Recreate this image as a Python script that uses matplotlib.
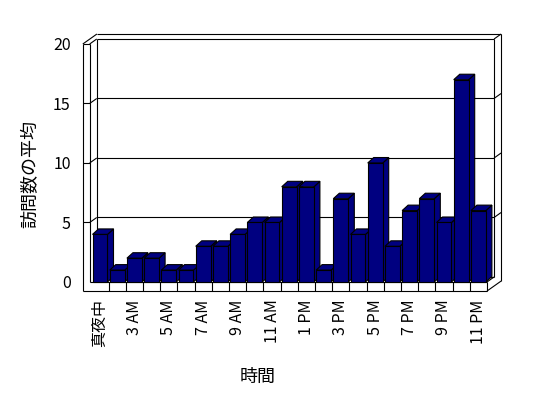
import matplotlib
matplotlib.use('Agg')
import matplotlib.pyplot as plt
from matplotlib.patches import Polygon

plt.rcParams['font.family'] = ['Noto Sans CJK JP', 'DejaVu Sans']

# ---- data ----
categories = ['真夜中', '2 AM', '3 AM', '4 AM', '5 AM', '6 AM', '7 AM', '8 AM',
              '9 AM', '10 AM', '11 AM', '正午', '1 PM', '2 PM', '3 PM', '4 PM',
              '5 PM', '6 PM', '7 PM', '8 PM', '9 PM', '10 PM', '11 PM']
values = [4, 1, 2, 2, 1, 1, 3, 3, 4, 5, 5, 8, 8, 1, 7, 4, 10, 3, 6, 7, 5, 17, 6]
y_ticks = [0, 5, 10, 15, 20]
x_title = '時間'
y_title = '訪問数の平均'

# ---- 3D-look geometry (data units) ----
N = len(values)
XL = -0.6            # inner front edge of left wall
XR = N - 0.5         # front right edge of floor
WALL = 0.4           # left wall thickness
FLOOR = -0.76        # floor slab bottom
DX, DY = 0.41, 0.42  # depth offset
BW = 0.87            # bar width
BDX, BDY = 0.35, 0.46
YMAX = y_ticks[-1]
NAVY = '#000080'
LW = 0.8

fig = plt.figure(figsize=(5.48, 3.98), dpi=100)
ax = fig.add_axes([0.14953, 0.26874, 0.76646, 0.64583])
ax.set_xlim(XL - WALL - 0.05, XR + 2 * DX + 0.05)
ax.set_ylim(FLOOR, YMAX + 2 * DY)
for s in ax.spines.values():
    s.set_visible(False)


def line(xs, ys, z=1):
    ax.plot(xs, ys, color='black', lw=LW, zorder=z, clip_on=False,
            solid_capstyle='butt')


XO = XL - WALL
# back wall
line([XL + DX, XR + DX], [YMAX + DY, YMAX + DY])
line([XL + DX, XL + DX], [DY, YMAX + DY])
line([XR + DX, XR + DX], [DY, YMAX + DY])
line([XL + DX, XR + DX], [DY, DY])
line([XO + 2 * DX, XR + 2 * DX], [YMAX + 2 * DY, YMAX + 2 * DY])
line([XO, XO + 2 * DX], [YMAX, YMAX + 2 * DY])
line([XO, XL], [YMAX, YMAX])
line([XL, XL + DX], [YMAX, YMAX + DY])
line([XR + DX, XR + 2 * DX], [YMAX + DY, YMAX + 2 * DY])
line([XR + 2 * DX, XR + 2 * DX], [YMAX + 2 * DY, FLOOR + 2 * DY])
line([XR + 2 * DX, XR], [FLOOR + 2 * DY, FLOOR])
line([XR, XR + DX], [0, DY])
# left wall
line([XO, XO], [YMAX, FLOOR])
line([XL, XL], [YMAX, 0])
# floor front
line([XO, XR], [FLOOR, FLOOR])
line([XL, XR], [0, 0])
line([XR, XR], [0, FLOOR])
for i in range(N - 1):
    line([i + 0.5, i + 0.5], [0, FLOOR])
# gridlines
for v in y_ticks[1:-1]:
    line([XO, XL], [v, v])
    line([XL, XL + DX], [v, v + DY])
    line([XL + DX, XR + DX], [v + DY, v + DY])
    line([XR + DX, XR + 2 * DX], [v + DY, v + 2 * DY])

# bars
for i, v in enumerate(values):
    z = 3 + i * 0.01
    x0, x1 = i - BW / 2, i + BW / 2
    front = [(x0, 0), (x1, 0), (x1, v), (x0, v)]
    top = [(x0, v), (x1, v), (x1 + BDX, v + BDY), (x0 + BDX, v + BDY)]
    side = [(x1, 0), (x1 + BDX, BDY), (x1 + BDX, v + BDY), (x1, v)]
    for pts in (side, top, front):
        ax.add_patch(Polygon(pts, closed=True, facecolor=NAVY,
                             edgecolor='black', lw=LW, zorder=z,
                             joinstyle='miter'))

# ticks
ax.set_yticks(y_ticks)
ax.set_yticklabels([str(t) for t in y_ticks])
ax.set_xticks(range(0, N, 2))
ax.set_xticklabels(categories[::2], rotation=90, va='top', ha='center')
ax.tick_params(axis='y', length=0, pad=8, labelsize=11.5)
ax.tick_params(axis='x', length=0, pad=6, labelsize=11.5)

fig.text(30 / 548, 1 - 174 / 398, y_title, rotation=90, ha='center',
         va='center', fontsize=13)
fig.text(258 / 548, 1 - 377 / 398, x_title, ha='center', va='center',
         fontsize=13)

fig.savefig('out.png', dpi=100, facecolor='white')
